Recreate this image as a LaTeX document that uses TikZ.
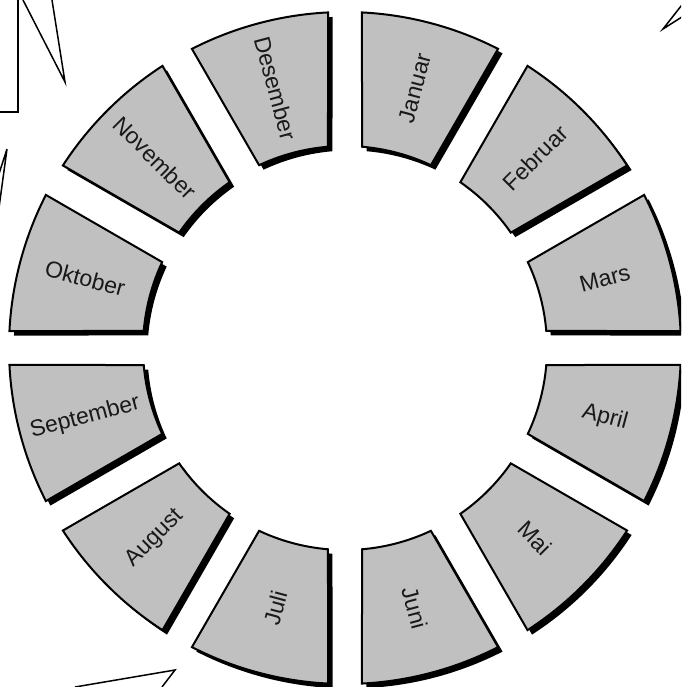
\documentclass[tikz,border=0pt]{standalone}
\usepackage{fontspec}
\setmainfont{Liberation Sans}
\usepackage{xcolor}
\usepackage{tikz}
\definecolor{segfill}{HTML}{C0C0C0}
% one ring piece, starting at angle #1, 30 degrees wide
\newcommand{\ringpath}[1]{({#1+2.9}:336pt) arc[start angle={#1+2.9}, end angle={#1+27.1}, radius=336pt]
  -- ({#1+25.17}:202pt) arc[start angle={#1+25.17}, end angle={#1+4.83}, radius=202pt] -- cycle}
\newcommand{\ringseg}[1]{\fill[black, shift={(4.5pt,-4.5pt)}] \ringpath{#1};
  \filldraw[seg] \ringpath{#1};}

\begin{document}
\begin{tikzpicture}[
  seg/.style={draw=black, fill=segfill, line width=2pt, line join=miter},
  month/.style={font=\fontsize{23}{26}\selectfont, text=black!90, inner sep=0pt},
  stray/.style={draw=black, line width=1.5pt}
]
\useasboundingbox (-345pt,-339pt) rectangle (336pt,348pt);
\clip (-345pt,-339pt) rectangle (336pt,348pt);

\ringseg{60}
\ringseg{30}
\ringseg{0}
\ringseg{-30}
\ringseg{-60}
\ringseg{-90}
\ringseg{240}
\ringseg{210}
\ringseg{180}
\ringseg{150}
\ringseg{120}
\ringseg{90}

\node[month, rotate=75] (jan) at (75:269pt) {Januar};
\node[month, rotate=45] (feb) at (45:269pt) {Februar};
\node[month, rotate=15] (mar) at (15:269pt) {Mars};
\node[month, rotate=-15] (apr) at (-15:269pt) {April};
\node[month, rotate=-45] (mai) at (-45:269pt) {Mai};
\node[month, rotate=-75] (jun) at (-75:269pt) {Juni};
\node[month, rotate=75] (jul) at (255:269pt) {Juli};
\node[month, rotate=45] (aug) at (225:269pt) {August};
\node[month, rotate=15] (sep) at (195:269pt) {September};
\node[month, rotate=-15] (okt) at (165:269pt) {Oktober};
\node[month, rotate=-45] (nov) at (135:269pt) {November};
\node[month, rotate=-75] (des) at (105:269pt) {Desember};

% loose strokes at the edges
\draw[stray] (-327pt,352pt) -- (-327pt,236pt) -- (-350pt,236pt);
\draw[stray] (-322pt,348pt) -- (-280pt,266pt) -- (-293pt,348pt);
\draw[stray] (-348pt,168pt) -- (-338pt,199pt) -- (-347pt,133pt);
\draw[stray] (340pt,347pt) -- (318pt,319pt) -- (340pt,333pt);
\draw[stray] (-270pt,-339pt) -- (-170pt,-322pt) -- (-183pt,-339pt);
\end{tikzpicture}
\end{document}
